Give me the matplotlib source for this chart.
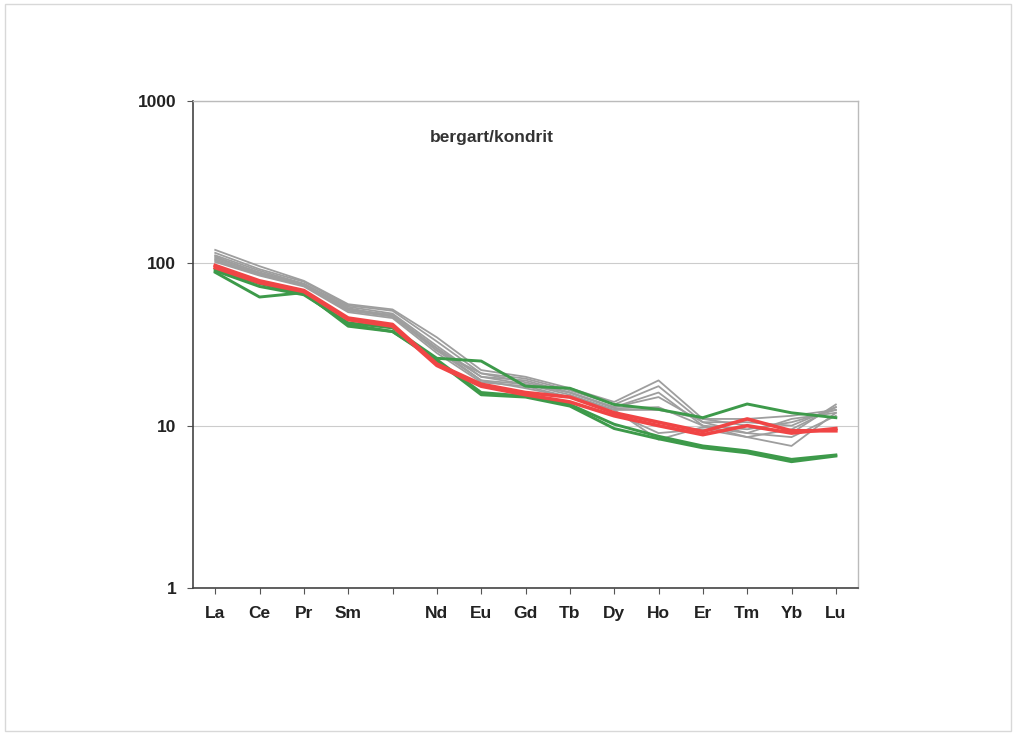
import matplotlib
matplotlib.use("Agg")
import matplotlib.pyplot as plt
from matplotlib.patches import Rectangle

elements = ["La", "Ce", "Pr", "Sm", "", "Nd", "Eu", "Gd", "Tb", "Dy", "Ho", "Er", "Tm", "Yb", "Lu"]

gray1 = [121, 96, 78, 56, 52, 35, 22, 20, 17, 14, 19, 11, 10, 9, 13.5]
gray2 = [116, 92, 77, 55, 51, 33, 21, 19.5, 16.5, 13.5, 17.5, 10.5, 10.5, 10, 13]
gray3 = [112, 90, 75, 54, 49, 31, 20, 19, 16, 13, 16, 10, 9.5, 10.5, 12.5]
gray4 = [108, 88, 74, 52, 48, 30, 20, 18, 16, 13, 15, 10.5, 9, 11, 12]
gray5 = [104, 85, 73, 51, 47, 29, 19, 18, 15.5, 12.5, 12.5, 11, 11, 11.5, 12.5]
gray6 = [102, 84, 72, 50, 46, 28, 18.5, 17.5, 15, 12, 9, 9.5, 8.5, 7.5, 12]
gray7 = [110, 87, 74, 53, 47, 30, 19, 17, 15, 12.5, 8.2, 9.8, 9, 8.5, 11.5]
gray8 = [106, 86, 73, 52, 48, 29, 21, 18.5, 16, 12.8, 13, 10, 8.5, 9.5, 13]

red1 = [97, 78, 68, 46, 42, 24, 18, 16, 15, 12, 10.5, 9.2, 11, 9.3, 9.3]
red2 = [94, 76, 67, 45, 41, 23.5, 17.5, 15.5, 14, 11.5, 10, 8.8, 10, 9.0, 9.6]

green_low = [92, 75, 65, 42, 38, 25, 15.5, 15, 13.2, 9.6, 8.3, 7.3, 6.8, 6.0, 6.5]
green_dip = [88, 62, 66, 41, 38, 25.5, 16, 15.2, 13.5, 10.2, 8.6, 7.5, 7.0, 6.2, 6.6]
green_eu = [90, 72, 64, 43, 40, 26, 25, 17.5, 17, 13.5, 12.6, 11.2, 13.6, 12, 11.2]

title = "bergart/kondrit"

plt.rcParams['font.family'] = ['Liberation Sans', 'DejaVu Sans']

fig = plt.figure(figsize=(10.16, 7.35), dpi=100)
fig.patches.append(Rectangle((0.005, 0.006), 0.99, 0.988, transform=fig.transFigure,
                             fill=False, edgecolor='#d8d8d8', linewidth=1.0))
ax = fig.add_axes([0.190, 0.200, 0.6545, 0.6626])

x = list(range(len(elements)))
for s in [gray1, gray2, gray3, gray4, gray5, gray6, gray7, gray8]:
    ax.plot(x, s, color='#9e9e9e', linewidth=1.3, zorder=2)
for s in [green_low, green_dip, green_eu]:
    ax.plot(x, s, color='#3d9a4a', linewidth=2.1, zorder=3)
for s in [red1, red2]:
    ax.plot(x, s, color='#f04545', linewidth=2.6, zorder=4)

ax.set_yscale('log')
ax.set_ylim(1, 1000)
ax.set_xlim(-0.5, len(elements) - 0.5)
ax.set_yticks([1, 10, 100, 1000])
ax.set_yticklabels(["1", "10", "100", "1000"])
ax.minorticks_off()
ax.set_xticks(x)
ax.set_xticklabels(elements)
for lab in ax.get_xticklabels() + ax.get_yticklabels():
    lab.set_fontweight('bold')
    lab.set_fontsize(12.5)
    lab.set_color('#222222')
ax.tick_params(axis='y', direction='out', length=4, width=0.8, color='#555555', pad=8)
ax.tick_params(axis='x', direction='out', length=4, width=0.8, color='#555555', pad=9)
ax.grid(axis='y', color='#cccccc', linewidth=0.8)
ax.set_axisbelow(True)

for side in ['top', 'right']:
    ax.spines[side].set_color('#bbbbbb')
    ax.spines[side].set_linewidth(1.0)
for side in ['left', 'bottom']:
    ax.spines[side].set_color('#444444')
    ax.spines[side].set_linewidth(1.2)

ax.text(0.45, 0.925, title, transform=ax.transAxes, ha='center', va='center',
        fontsize=12.5, fontweight='bold', color='#333333')

fig.savefig("out.png", dpi=100)
